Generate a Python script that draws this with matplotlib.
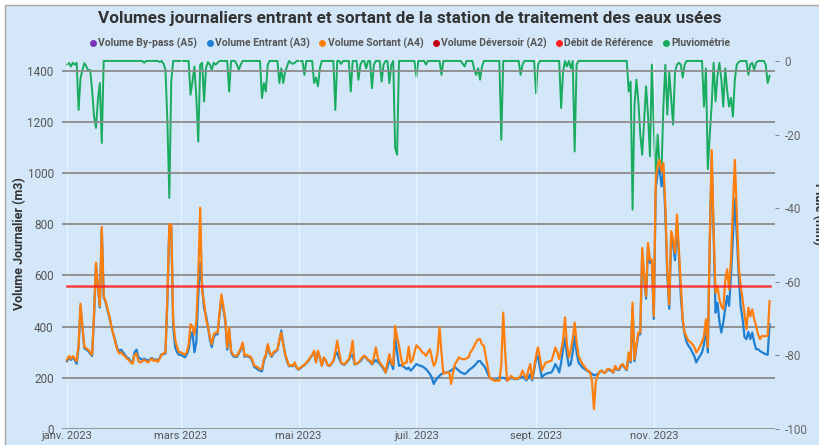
import matplotlib
matplotlib.use('Agg')
import matplotlib.pyplot as plt
from matplotlib.lines import Line2D
from matplotlib.patches import Rectangle
import numpy as np
import pandas as pd

plt.rcParams['axes.unicode_minus'] = False
plt.rcParams['font.family'] = ['Roboto', 'DejaVu Sans']

# daily values, 2023
dates = pd.date_range('2023-01-01', '2023-12-31', freq='D')

# Volume Entrant (A3), m3
entrant = [
    # janv.
    265, 280, 270, 280, 270, 255, 320, 480, 395, 315, 310, 305, 295, 285, 440, 640,
    550, 475, 780, 515, 495, 465, 435, 400, 370, 345, 315, 305, 310, 300, 290,
    # fevr.
    280, 275, 265, 260, 300, 310, 280, 275, 270, 275, 270, 268, 272, 278, 270, 272,
    268, 278, 292, 292, 295, 500, 790, 790, 400, 320, 300, 290,
    # mars
    290, 285, 280, 290, 310, 360, 380, 300, 340, 520, 650, 560, 470, 445, 400, 350,
    320, 360, 370, 370, 445, 510, 470, 420, 310, 385, 300, 285, 282, 282, 295,
    # avr.
    310, 330, 282, 286, 282, 280, 265, 242, 238, 232, 228, 225, 265, 285, 325, 295,
    282, 296, 302, 308, 345, 385, 335, 290, 265, 245, 248, 245, 255, 238,
    # mai
    232, 238, 245, 250, 258, 265, 278, 288, 300, 262, 300, 278, 248, 275, 268, 250,
    246, 254, 265, 290, 300, 275, 258, 252, 252, 262, 270, 285, 290, 252, 254,
    # juin
    260, 265, 275, 286, 278, 268, 262, 252, 262, 270, 262, 255, 245, 235, 221, 240,
    270, 255, 234, 357, 300, 247, 250, 245, 240, 234, 240, 228, 235, 245,
    # juil.
    254, 250, 247, 245, 240, 234, 225, 215, 200, 176, 190, 200, 208, 215, 221, 221,
    221, 225, 228, 235, 241, 235, 228, 222, 218, 215, 220, 228, 235, 240, 247,
    # aout
    255, 265, 266, 255, 247, 234, 215, 200, 195, 192, 190, 195, 202, 200, 200, 198,
    190, 195, 200, 198, 195, 195, 198, 200, 205, 198, 190, 200, 215, 190, 230,
    # sept.
    273, 286, 240, 202, 210, 215, 218, 220, 221, 235, 254, 240, 221, 260, 312, 357,
    290, 247, 255, 300, 364, 300, 260, 250, 241, 235, 230, 225, 221, 215,
    # oct.
    210, 212, 215, 222, 228, 220, 221, 232, 230, 228, 220, 240, 232, 230, 245, 250,
    238, 230, 290, 260, 470, 265, 320, 370, 370, 690, 590, 510, 710, 650, 650,
    # nov.
    430, 940, 1000, 1020, 948, 1000, 840, 600, 470, 750, 720, 660, 810, 680, 520, 420,
    370, 340, 325, 315, 299, 285, 260, 275, 286, 300, 330, 400, 299, 720,
    # dec.
    1060, 750, 455, 494, 420, 377, 416, 470, 520, 481, 600, 754, 900, 760, 600, 480,
    430, 360, 351, 380, 351, 377, 340, 312, 312, 305, 300, 296, 292, 290, 409,
]

# Volume Sortant (A4), m3
sortant = [
    # janv.
    270, 285, 275, 285, 275, 265, 330, 490, 400, 320, 315, 310, 300, 290, 450, 650,
    560, 480, 790, 520, 500, 470, 440, 400, 370, 340, 310, 295, 300, 290, 285,
    # fevr.
    275, 270, 260, 255, 290, 295, 265, 260, 265, 270, 265, 260, 270, 275, 265, 270,
    262, 275, 290, 295, 300, 520, 800, 800, 430, 350, 320, 300,
    # mars
    300, 295, 290, 300, 330, 410, 400, 370, 420, 600, 865, 540, 495, 430, 400, 360,
    332, 370, 377, 377, 450, 526, 480, 429, 319, 397, 306, 290, 286, 286, 300,
    # avr.
    315, 338, 286, 290, 285, 284, 270, 247, 245, 240, 234, 234, 273, 290, 332, 300,
    286, 300, 306, 310, 350, 377, 330, 293, 270, 247, 250, 247, 260, 240,
    # mai
    234, 240, 247, 250, 260, 267, 280, 290, 306, 260, 306, 280, 247, 280, 270, 250,
    247, 255, 267, 300, 345, 300, 260, 254, 254, 265, 273, 300, 345, 254, 255,
    # juin
    260, 270, 280, 286, 280, 270, 267, 254, 280, 319, 280, 260, 250, 240, 221, 260,
    293, 260, 250, 403, 360, 325, 280, 247, 260, 260, 322, 260, 270, 300,
    # juil.
    327, 320, 312, 300, 295, 286, 300, 312, 280, 247, 260, 300, 397, 300, 215, 220,
    221, 222, 176, 220, 254, 265, 280, 275, 273, 273, 276, 280, 300, 310, 325,
    # aout
    340, 351, 351, 330, 325, 280, 240, 200, 195, 190, 188, 190, 188, 250, 455, 300,
    188, 195, 208, 200, 198, 195, 200, 208, 228, 210, 195, 230, 254, 195, 240,
    # sept.
    286, 319, 280, 228, 245, 260, 262, 265, 267, 290, 319, 300, 273, 310, 345, 436,
    330, 280, 310, 351, 416, 340, 286, 270, 254, 245, 234, 228, 221, 188,
    # oct.
    78, 188, 210, 225, 228, 220, 221, 235, 234, 230, 221, 247, 234, 234, 250, 254,
    240, 234, 299, 267, 494, 273, 330, 377, 377, 708, 600, 520, 727, 662, 662,
    # nov.
    441, 974, 1030, 1052, 1007, 1039, 870, 620, 487, 773, 741, 689, 838, 702, 560, 429,
    377, 360, 344, 340, 331, 320, 299, 310, 325, 340, 364, 429, 320, 741,
    # dec.
    1091, 780, 533, 559, 507, 480, 468, 580, 624, 546, 663, 870, 1052, 850, 637, 560,
    507, 450, 390, 474, 440, 468, 430, 403, 370, 351, 364, 362, 364, 364, 500,
]

# Pluviometrie: day of year (0 = 1 janv.) and rain in mm (drawn downward)
rain_day = [
    0, 1, 2, 3, 4, 5, 6, 7, 8, 9, 10, 11, 12, 13, 14, 15, 16, 17, 18,
    40, 48, 50, 51, 52, 53, 54,
    64, 65, 66, 67, 68, 69, 70, 71, 72, 73, 74, 75, 76, 77, 78, 84, 88, 89, 90,
    101, 102, 103, 104, 110, 111, 112, 113, 114, 116, 117, 118, 123, 128, 129, 130, 131,
    139, 142, 147, 151, 152, 155, 158, 159, 163, 164, 167, 168, 170, 171,
    181, 186, 194, 205, 206, 211, 212, 213, 214, 215, 225, 235, 236, 243, 244,
    256, 257, 259, 261, 263, 264,
    291, 292, 293, 294, 295, 296, 297, 298, 299, 300, 301, 302, 303, 304, 305, 306,
    307, 308, 309, 310, 311, 312, 313, 314, 315, 316, 317, 318, 319, 320,
    330, 331, 332, 333, 334, 335, 336, 337, 338, 339, 340, 341, 342, 343, 344, 345,
    346, 347, 348, 353, 354, 355, 356, 357, 362, 363, 364,
]
rain_mm = [
    -1, -0.5, -1.5, -0.5, -1, -0.5, -13.3, -4.7, -2.4, -0.6, -1.5, -2.7, -2.4, -8, -15, -18.2, -10.6, -6, -22.3,
    -0.5, -0.3, -0.8, -2.4, -16.4, -37.2, -5.6,
    -9.2, -5.6, -1.5, -10, -21.9, -1, -0.5, -11, -2, -0.3, -1, -2.4, -0.5, -1, -0.5, -8.3, -1, -2.4, -1,
    -10.1, -6, -8.3, -1, -6, -2, -6, -3, -1.5, -0.5, -0.8, -0.5, -3.8, -6, -4.5, -6.9, -2,
    -13.3, -0.8, -8.3, -5.1, -1, -2, -7.4, -1, -5.6, -1, -6, -1, -23.6, -25.5,
    -4.2, -1, -3.8, -0.8, -1.5, -2.4, -3.8, -2, -5.1, -1.5, -21.4, -3.8, -1, -8.8, -1,
    -12.8, -3, -1.5, -2, -24.6, -1,
    -8.3, -5.6, -40.4, -12, -5.1, -11, -20, -25.5, -16, -6.9, -14.6, -25.9, -1, -18, -32.2, -20,
    -28.2, -30, -12, -1, -14.6, -3, -10, -17.3, -3, -1, -0.5, -1, -4.5, -1,
    -12.4, -2, -29.4, -20, -11.9, -0.5, -11, -4, -0.5, -5, -12.4, -2, -8, -12.4, -10, -15.1,
    -5, -1, -0.3, -3.8, -1, -0.5, -2.4, -0.5, -1, -6, -4,
]

debit_reference = 557

tick_dates = ['2023-01-01', '2023-03-01', '2023-05-01', '2023-07-01', '2023-09-01', '2023-11-01']
tick_labels = ['janv. 2023', 'mars 2023', 'mai 2023', 'juil. 2023', 'sept. 2023', 'nov. 2023']

legend_labels = ['Volume By-pass (A5)', 'Volume Entrant (A3)', 'Volume Sortant (A4)',
                 'Volume Déversoir (A2)', 'Débit de Référence', 'Pluviométrie']
legend_colors = ['#7a35b8', '#1f7fd0', '#ff7f0e', '#c00010', '#ff2020', '#19ab5e']

pluie = np.zeros(len(dates))
pluie[rain_day] = rain_mm

bg = '#d4e7f9'
fig = plt.figure(figsize=(8.2, 4.45), dpi=100, facecolor='white')
fig.add_artist(Rectangle((5 / 820, -0.1), 1.1, (440 / 445) + 0.1, transform=fig.transFigure,
                         facecolor=bg, edgecolor='#a8a8a8', lw=1, zorder=-5))

ax = fig.add_axes([62 / 820, 16 / 445, 713 / 820, 371 / 445])
ax2 = ax.twinx()
ax.set_zorder(ax2.get_zorder() + 1)
ax.patch.set_visible(False)
ax2.patch.set_visible(False)

# volumes
ax.plot(dates, entrant, color=legend_colors[1], lw=1.6)
ax.plot(dates, sortant, color=legend_colors[2], lw=1.6)
ax.plot([dates[0], dates[-1]], [debit_reference, debit_reference], color=legend_colors[4], lw=1.8, alpha=0.85)

# rain on the right axis
ax2.plot(dates, pluie, color=legend_colors[5], lw=1.4)

ax.set_xlim(dates[0] - pd.Timedelta(days=2.6), dates[-1] + pd.Timedelta(days=2.8))
ax.set_ylim(0, 1450)
ax2.set_ylim(-100, 0.8)

ax.set_yticks(range(0, 1401, 200))
ax2.set_yticks(range(-100, 1, 20))
ax.set_xticks(pd.to_datetime(tick_dates))
ax.set_xticklabels(tick_labels)

ax.yaxis.grid(True, color='#8c8c8c', lw=1.3)
ax.xaxis.grid(True, color='white', lw=0.8, alpha=0.5)
for a in (ax, ax2):
    for s in a.spines.values():
        s.set_visible(False)

ax.tick_params(axis='y', length=0, pad=6, labelsize=8.5, labelcolor='#555555')
ax.tick_params(axis='x', length=0, pad=1.5, labelsize=8, labelcolor='#555555')
ax2.tick_params(axis='y', length=3, width=0.8, color='#888888', pad=4, labelsize=8.5, labelcolor='#666666')

ax.set_ylabel('Volume Journalier (m3)', fontsize=9, fontweight='bold', color='#333333')
ax.yaxis.set_label_coords(-0.05, 0.5)
fig.text(818 / 820, 0.52, 'Pluie (mm)', rotation=270, ha='center', va='center',
         fontsize=9, fontweight='bold', color='#333333')

fig.text(0.5, 1 - 18 / 445, 'Volumes journaliers entrant et sortant de la station de traitement des eaux usées',
         ha='center', va='center', fontsize=12.3, fontweight='bold', color='#333333')

handles = [Line2D([], [], marker='o', ls='none', markersize=4, color=c) for c in legend_colors]
fig.legend(handles, legend_labels, loc='center', bbox_to_anchor=(0.5, 1 - 43 / 445), ncol=6,
           frameon=False, prop={'weight': 'bold', 'size': 7.5}, labelcolor='#555555',
           handlelength=0.6, handletextpad=0.2, columnspacing=0.9, borderaxespad=0)

fig.savefig('out.png', dpi=100, facecolor='white')
